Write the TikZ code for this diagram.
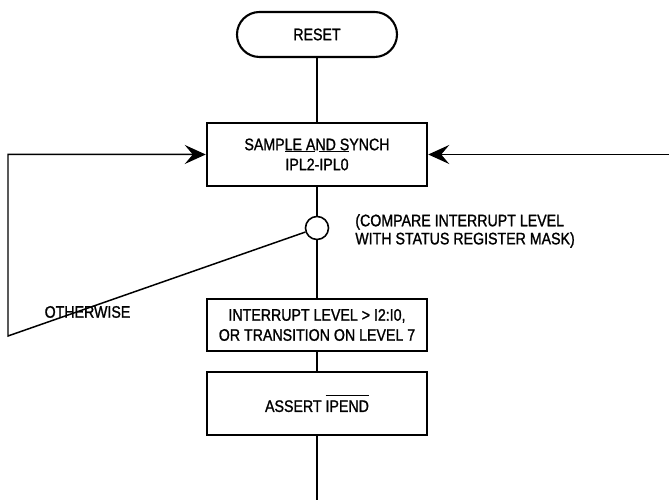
\documentclass[tikz,border=0pt]{standalone}
\usepackage{fontspec}
\setmainfont{Liberation Sans}[FakeStretch=0.85, FakeBold=1.2]
\usetikzlibrary{arrows.meta, shapes.geometric}

\newlength\barlen
\newcommand\hibar[2][9pt]{\settowidth{\barlen}{#2}\rlap{\rule[#1]{\barlen}{0.7pt}}#2}

\begin{document}
\begin{tikzpicture}[
        font=\fontsize{9.5}{11.4}\selectfont,
        terminal/.style={rectangle, draw, line width=1.2pt, rounded corners=0.45cm, minimum width=3.2cm, minimum height=0.9cm},
        block/.style={rectangle, draw, line width=1.4pt, minimum width=4.4cm, align=center},
        test/.style={circle, draw, line width=0.9pt, minimum size=0.46cm, inner sep=0pt},
        note/.style={align=left, inner sep=0pt, font=\fontsize{9.5}{10.3}\selectfont},
        line/.style={line width=0.85pt},
        arrow/.style={line width=0.85pt, -{Stealth[length=4.2mm, width=3.8mm, inset=1.6mm]}}
    ]
        \useasboundingbox (0,0) rectangle (13.38,10);

        % Reset and sampling
        \node[terminal] (reset) at (6.34,9.31) {RESET};
        \node[block, minimum height=1.26cm] (sample) at (6.34,6.91) {SAMPLE AND SYNCH\\\hibar[10.5pt]{IPL2}-\hibar[10.5pt]{IPL0}};

        % Level comparison
        \node[test] (cmp) at (6.34,5.44) {};
        \node[note, anchor=west] (cmpnote) at (7.1,5.38) {(COMPARE INTERRUPT LEVEL\\WITH STATUS REGISTER MASK)};
        \node (otherwise) at (1.75,3.76) {OTHERWISE};

        \node[block, minimum height=1.04cm] (irq) at (6.34,3.5) {INTERRUPT LEVEL > I2:I0,\\OR TRANSITION ON LEVEL 7};
        \node[block, minimum height=1.26cm] (assert) at (6.34,1.93) {ASSERT \hibar{IPEND}};

        \coordinate (lcorner) at (0.16,3.28);
        \coordinate (rin) at (13.38,6.91);
        \coordinate (out) at (6.34,0);

        \draw[line] (reset) -- (sample);
        \draw[line] (sample) -- (cmp);
        \draw[line] (cmp) -- (irq);
        \draw[line] (irq) -- (assert);
        \draw[line] (assert) -- (out);

        % Loops back to sampling
        \draw[arrow] (cmp) -- (lcorner) |- (sample.west);
        \draw[arrow] (rin) -- (sample.east);

    \end{tikzpicture}
\end{document}
